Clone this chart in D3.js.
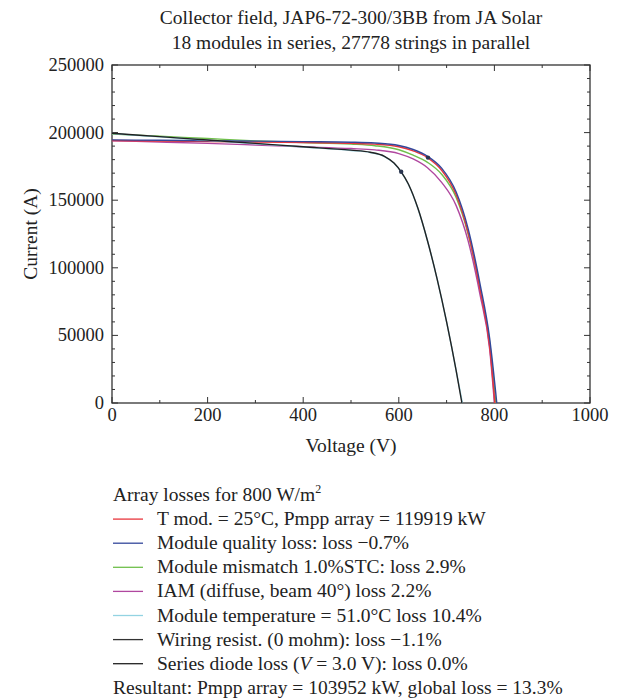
<!DOCTYPE html>
<html><head><meta charset="utf-8">
<script src="https://cdn.jsdelivr.net/npm/d3@7"></script>
<style>
html,body{margin:0;padding:0;background:#fff;}
svg text{font-family:"Liberation Serif","DejaVu Serif",serif;fill:#222;}
</style></head>
<body><svg id="c" width="621" height="699"></svg>
<script>
const titleLines = ["Collector field, JAP6-72-300/3BB from JA Solar", "18 modules in series, 27778 strings in parallel"];
const xTicks = [0, 200, 400, 600, 800, 1000];
const yTicks = [0, 50000, 100000, 150000, 200000, 250000];

const vRed = [0,100,200,300,400,500,550,600,630,660,690,720,745,770,790,801];
const iRed = [194200,193800,193400,193000,192600,192100,191500,189500,186500,181500,172000,154000,126000,84000,42000,0];
const vBlue = [0,100,200,300,400,500,550,600,630,660,690,720,745,770,790,805];
const iBlue = [194600,194300,194000,193700,193300,192900,192300,190500,187500,182500,173500,156000,129000,88000,48000,0];
const vGreen = [0,100,200,300,400,500,550,600,630,660,690,720,745,770,790,803];
const iGreen = [199000,197300,195600,193900,192700,191500,190300,187300,183300,178000,169000,152000,125000,84000,45000,0];
const vMagenta = [0,100,200,300,400,500,550,600,630,660,690,720,745,770,790,800];
const iMagenta = [194000,193000,192000,190800,189500,188200,187200,184500,180500,174000,163000,146000,120000,80000,40000,0];
const vCyan = [0,100,200,300,400,500,540,570,590,605,620,640,660,680,700,720,733];
const iCyan = [199300,196800,194300,191800,189300,186800,185300,182300,177300,170800,161800,143800,120000,92000,60000,24000,0];
const vBlack = [0,100,200,300,400,500,540,570,590,605,620,640,660,680,700,720,732];
const iBlack = [199500,197000,194500,192000,189500,187000,185500,182500,177500,171000,162000,144000,120000,92000,60000,24000,0];
const mppV = [661, 605];
const mppI = [181500, 171000];

const legendTitle = "Array losses for 800 W/m";
const legendLabels = [
  "T mod. = 25°C, Pmpp array = 119919 kW",
  "Module quality loss: loss −0.7%",
  "Module mismatch 1.0%STC: loss 2.9%",
  "IAM (diffuse, beam 40°) loss 2.2%",
  "Module temperature = 51.0°C loss 10.4%",
  "Wiring resist. (0 mohm): loss −1.1%",
  "Series diode loss (V = 3.0 V): loss 0.0%"
];
const legendColors = ["#e8363c","#33479b","#6fbf4b","#b0479f","#93d3e2","#333333","#222222"];
const resultant = "Resultant: Pmpp array = 103952 kW, global loss = 13.3%";

const svg = d3.select("#c");
const L = 112, R = 590, T = 65, B = 403;
const x = d3.scaleLinear().domain([0, 1000]).range([L, R]);
const y = d3.scaleLinear().domain([0, 250000]).range([B, T]);
const FS = 19.5, TFS = 18.5;

svg.selectAll(".title").data(titleLines).join("text")
  .attr("x", 351).attr("y", (d, i) => 24 + i * 25)
  .attr("text-anchor", "middle").attr("font-size", FS).text(d => d);

const axisColor = "#333";
svg.append("rect").attr("x", L).attr("y", T).attr("width", R - L).attr("height", B - T)
  .attr("fill", "none").attr("stroke", axisColor).attr("stroke-width", 1.3);

const g = svg.append("g").attr("stroke", axisColor).attr("stroke-width", 1);
d3.range(0, 250001, 10000).forEach(v => {
  const len = v % 50000 === 0 ? 6 : 3;
  g.append("line").attr("x1", L).attr("x2", L + len).attr("y1", y(v)).attr("y2", y(v));
  g.append("line").attr("x1", R).attr("x2", R - len).attr("y1", y(v)).attr("y2", y(v));
});
d3.range(0, 1001, 100).forEach(v => {
  const len = v % 200 === 0 ? 6 : 3;
  g.append("line").attr("x1", x(v)).attr("x2", x(v)).attr("y1", B).attr("y2", B - len);
  g.append("line").attr("x1", x(v)).attr("x2", x(v)).attr("y1", T).attr("y2", T + len);
});

svg.selectAll(".xl").data(xTicks).join("text")
  .attr("x", d => x(d)).attr("y", B + 18).attr("text-anchor", "middle")
  .attr("font-size", TFS).text(d => d);
svg.selectAll(".yl").data(yTicks).join("text")
  .attr("x", L - 8).attr("y", d => y(d) + 6).attr("text-anchor", "end")
  .attr("font-size", TFS).text(d => d);

svg.append("text").attr("x", (L + R) / 2).attr("y", 452).attr("text-anchor", "middle")
  .attr("font-size", FS).text("Voltage (V)");
svg.append("text").attr("transform", `translate(37,${(T + B) / 2}) rotate(-90)`)
  .attr("text-anchor", "middle").attr("font-size", FS).text("Current (A)");

const series = [
  [vRed, iRed, legendColors[0]],
  [vBlue, iBlue, legendColors[1]],
  [vGreen, iGreen, legendColors[2]],
  [vMagenta, iMagenta, legendColors[3]],
  [vCyan, iCyan, legendColors[4]],
  [vBlack, iBlack, legendColors[6]]
];
const line = d3.line().x(d => x(d[0])).y(d => y(d[1])).curve(d3.curveMonotoneX);
[2, 3, 0, 1, 4, 5].forEach(k => {
  const [vs, is, c] = series[k];
  svg.append("path").datum(vs.map((v, i) => [v, is[i]]))
    .attr("d", line).attr("fill", "none").attr("stroke", c).attr("stroke-width", 1.4);
});
svg.selectAll(".mpp").data(mppV).join("circle")
  .attr("cx", d => x(d)).attr("cy", (d, i) => y(mppI[i])).attr("r", 2.2).attr("fill", "#2a3550");

const lx = 113, ly0 = 501, dy = 24.1;
const lt = svg.append("text").attr("x", lx).attr("y", ly0).attr("font-size", FS).text(legendTitle);
lt.append("tspan").attr("dy", -8).attr("font-size", 12).text("2");
legendLabels.forEach((lab, i) => {
  const yy = ly0 + dy * (i + 1);
  svg.append("line").attr("x1", lx).attr("x2", lx + 30).attr("y1", yy - 6).attr("y2", yy - 6)
    .attr("stroke", legendColors[i]).attr("stroke-width", 1.3);
  const t = svg.append("text").attr("x", lx + 44).attr("y", yy).attr("font-size", FS);
  if (lab.indexOf("(V =") >= 0) {
    const parts = lab.split("(V =");
    t.append("tspan").text(parts[0] + "(");
    t.append("tspan").attr("font-style", "italic").text("V");
    t.append("tspan").text(" =" + parts[1]);
  } else t.text(lab);
});
svg.append("text").attr("x", lx).attr("y", ly0 + dy * 8).attr("font-size", FS).text(resultant);
</script></body></html>
